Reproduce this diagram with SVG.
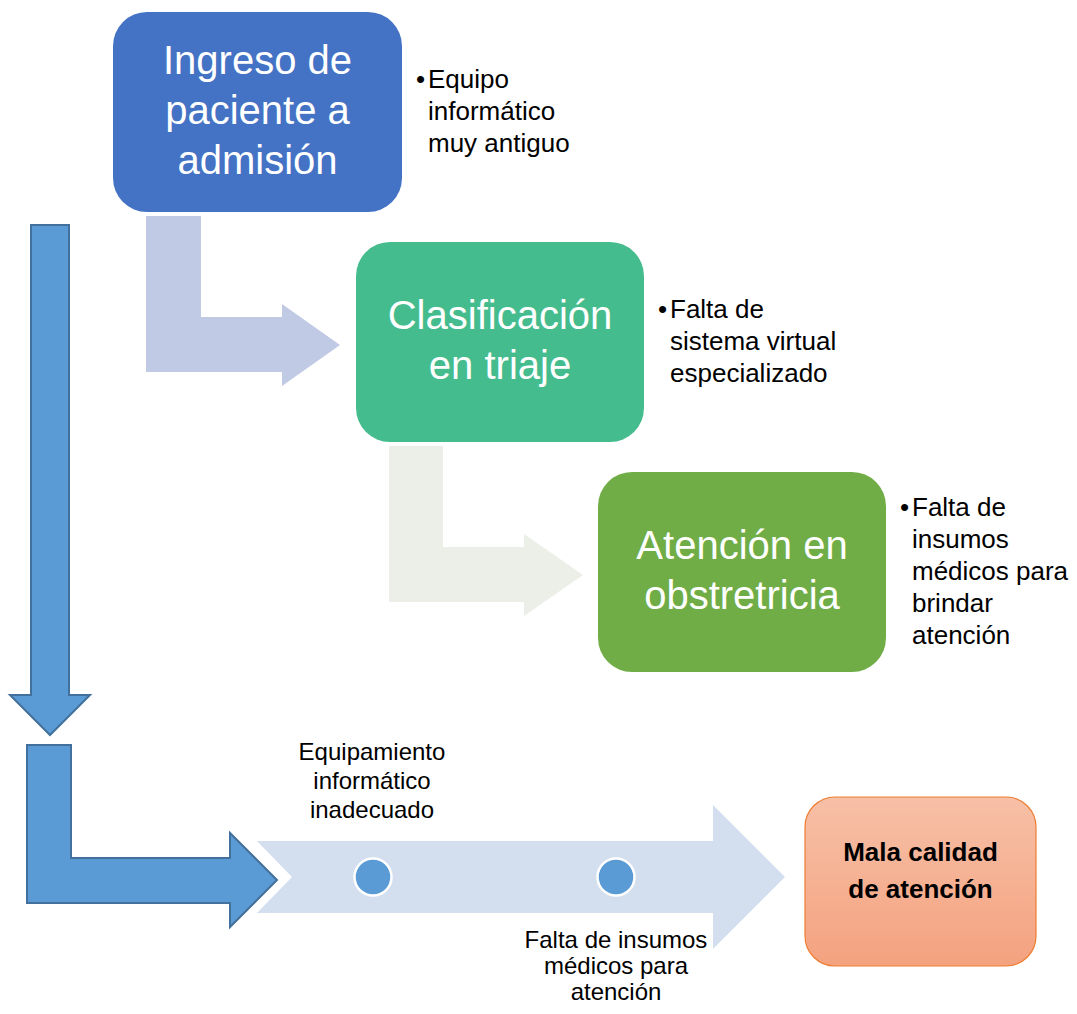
<svg xmlns="http://www.w3.org/2000/svg" width="1077" height="1014" viewBox="0 0 1077 1014">
<defs>
<style>
text{font-family:"Liberation Sans",Arial,sans-serif;}
.big{font-size:40px;fill:#FFFFFF;text-anchor:middle;}
.note{font-size:26px;fill:#000000;}
.mid{font-size:24px;fill:#000000;text-anchor:middle;}
.res{font-size:26px;font-weight:bold;fill:#000000;text-anchor:middle;}
.blue{fill:#5B9BD5;stroke:#41719C;stroke-width:2;stroke-linejoin:miter;}
.dot{fill:#5B9BD5;stroke:#FFFFFF;stroke-width:2.5;}
</style>
<linearGradient id="og" x1="0" y1="0" x2="0" y2="1">
<stop offset="0" stop-color="#F7C0A7"/>
<stop offset="1" stop-color="#F4A27F"/>
</linearGradient>
</defs>
<rect width="1077" height="1014" fill="#FFFFFF"/>
<g id="connectors">
<path d="M146,216 H201 V317 H282 V304 L340,345 L282,386 V372 H146 Z" fill="#C0CAE4"/>
<path d="M389,446 H443 V547 H524 V534 L583,575 L524,616 V602 H389 Z" fill="#EBEFE8"/>
<path class="blue" d="M31,225 H69 V695 H90 L50,735 L10,695 H31 Z"/>
<path class="blue" d="M27,745 H71 V858 H230 V833 L277,880 L230,927 V903 H27 Z"/>
</g>
<g id="timeline">
<path d="M257,841 H713 V805 L785,877 L713,949 V913 H257 L292,877 Z" fill="#D3DEEF"/>
<circle class="dot" cx="373" cy="877" r="18.5"/>
<circle class="dot" cx="616" cy="877" r="18.5"/>
<text class="mid"><tspan x="372" y="760">Equipamiento</tspan><tspan x="372" y="789">informático</tspan><tspan x="372" y="818">inadecuado</tspan></text>
<text class="mid"><tspan x="616" y="948">Falta de insumos</tspan><tspan x="616" y="974">médicos para</tspan><tspan x="616" y="1000">atención</tspan></text>
</g>
<g id="node-ingreso">
<rect x="113" y="12" width="289" height="200" rx="34" fill="#4472C4"/>
<text class="big"><tspan x="257.5" y="74">Ingreso de</tspan><tspan x="257.5" y="124">paciente a</tspan><tspan x="257.5" y="174">admisión</tspan></text>
<text class="note"><tspan x="416" y="88">•</tspan><tspan x="428" y="88">Equipo</tspan><tspan x="428" y="120">informático</tspan><tspan x="428" y="152">muy antiguo</tspan></text>
</g>
<g id="node-triaje">
<rect x="356" y="242" width="288" height="200" rx="34" fill="#45BC8E"/>
<text class="big"><tspan x="500" y="329">Clasificación</tspan><tspan x="500" y="379">en triaje</tspan></text>
<text class="note"><tspan x="658" y="318">•</tspan><tspan x="670" y="318">Falta de</tspan><tspan x="670" y="350">sistema virtual</tspan><tspan x="670" y="382">especializado</tspan></text>
</g>
<g id="node-obstetricia">
<rect x="598" y="472" width="288" height="200" rx="34" fill="#70AD47"/>
<text class="big"><tspan x="742" y="559">Atención en</tspan><tspan x="742" y="609">obstretricia</tspan></text>
<text class="note"><tspan x="900" y="516">•</tspan><tspan x="912" y="516">Falta de</tspan><tspan x="912" y="548">insumos</tspan><tspan x="912" y="580">médicos para</tspan><tspan x="912" y="612">brindar</tspan><tspan x="912" y="644">atención</tspan></text>
</g>
<g id="node-resultado">
<rect x="805" y="797" width="231" height="169" rx="30" fill="url(#og)" stroke="#ED7D31" stroke-width="1.2"/>
<text class="res"><tspan x="920.5" y="861">Mala calidad</tspan><tspan x="920.5" y="898">de atención</tspan></text>
</g>
</svg>
